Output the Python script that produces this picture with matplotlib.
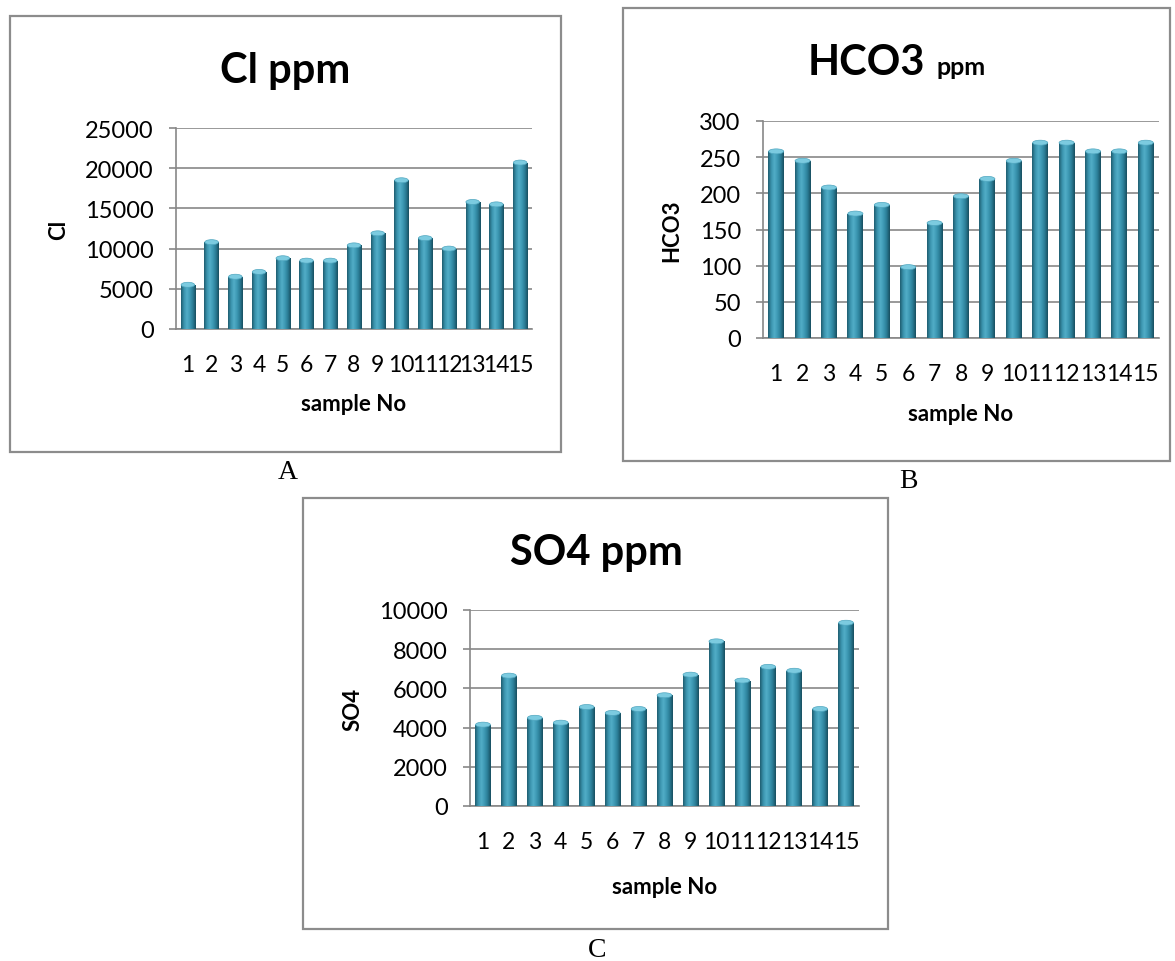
import numpy as np
import matplotlib
matplotlib.use("Agg")
import matplotlib.pyplot as plt
from matplotlib.colors import LinearSegmentedColormap
from matplotlib.patches import Rectangle, Ellipse

# ---------------- data ----------------
samples = [str(i) for i in range(1, 16)]
cl_ppm = [5500, 10800, 6500, 7100, 8800, 8500, 8500, 10400, 11900, 18500, 11300, 10000, 15800, 15500, 20700]
hco3_ppm = [258, 245, 208, 172, 184, 98, 159, 196, 220, 245, 270, 270, 258, 258, 270]
so4_ppm = [4150, 6650, 4500, 4250, 5050, 4750, 4950, 5650, 6700, 8400, 6400, 7100, 6900, 4950, 9350]

W, H = 1175, 962
plt.rcParams['font.family'] = ['Lato', 'DejaVu Sans']

GRID = '#878787'
FRAME = '#8c8c8c'
cyl_cmap = LinearSegmentedColormap.from_list(
    'cyl', ['#1f5d70', '#3a93ad', '#52adc7', '#3d99b4', '#2a7c95', '#184f60'])


def fx(px):
    return px / W


def fy(py):
    return 1 - py / H


def draw_chart(fig, box, data, ymax, ystep, ylabel, label_coords):
    # box = (left, top, right, bottom) of the plot area in pixels
    l, t, r, b = box
    ax = fig.add_axes([fx(l), fy(b), fx(r - l), (b - t) / H])
    x = np.arange(len(data))
    bars = ax.bar(x, data, width=0.6, color='#3a93ad', zorder=3)

    # cylinder shading
    grad = np.linspace(0, 1, 64).reshape(1, -1)
    units_per_px = ymax / (b - t)
    for bar in bars:
        bx, by = bar.get_xy()
        bw, bh = bar.get_width(), bar.get_height()
        im = ax.imshow(grad, cmap=cyl_cmap, extent=[bx, bx + bw, by, by + bh],
                       aspect='auto', zorder=3, interpolation='bilinear')
        im.set_clip_path(bar)
        ax.add_patch(Ellipse((bx + bw / 2, by + bh), bw * 0.95, 5 * units_per_px,
                             facecolor='#7ccbe0', edgecolor='#4fa6bf', lw=0.5, zorder=4))

    ax.set_xlim(-0.5, len(data) - 0.5)
    ax.set_ylim(0, ymax)
    ax.set_yticks(np.arange(0, ymax + 1, ystep))
    ax.set_xticks(x)
    ax.set_xticklabels(samples)
    ax.yaxis.grid(True, color=GRID, lw=1.2, zorder=0)
    ax.set_axisbelow(True)
    for side in ['top', 'right']:
        ax.spines[side].set_visible(False)
    for side in ['left', 'bottom']:
        ax.spines[side].set_color(GRID)
        ax.spines[side].set_linewidth(1.2)
    ax.tick_params(axis='y', length=5, width=1.2, color=GRID, pad=11, labelsize=17)
    ax.tick_params(axis='x', length=0, pad=18, labelsize=16.5)

    ax.set_ylabel(ylabel, fontsize=16, fontweight='bold', va='center', ha='center')
    ax.set_xlabel('sample No', fontsize=16, fontweight='bold', va='center', ha='center')
    ax.yaxis.set_label_coords(label_coords[0], 0.5)
    ax.xaxis.set_label_coords(0.5, label_coords[1])
    return ax


fig = plt.figure(figsize=(W / 100, H / 100), dpi=100)

# frames around each chart
for (l, t, r, b) in [(10, 17, 561, 453), (623, 9, 1170, 462), (303, 499, 888, 930)]:
    fig.patches.append(Rectangle((fx(l), fy(b)), fx(r - l), (b - t) / H, fill=False,
                                 edgecolor=FRAME, lw=1.6, transform=fig.transFigure))

# A
draw_chart(fig, (176, 129, 532, 330), cl_ppm, 25000, 5000, 'Cl', (-0.33, -0.373))
fig.text(fx(285), fy(83), 'Cl ppm', fontsize=30, fontweight='bold', ha='center', va='baseline')

# B
draw_chart(fig, (763, 122, 1159, 339), hco3_ppm, 300, 50, 'HCO3', (-0.23, -0.350))
fig.text(fx(925), fy(75), 'HCO3', fontsize=30, fontweight='bold', ha='right', va='baseline')
fig.text(fx(937), fy(75), 'ppm', fontsize=18, fontweight='bold', ha='left', va='baseline')

# C
draw_chart(fig, (470, 611, 859, 807), so4_ppm, 10000, 2000, 'SO4', (-0.30, -0.413))
fig.text(fx(596), fy(565), 'SO4 ppm', fontsize=30, fontweight='bold', ha='center', va='baseline')

# panel letters
for letter, px, py in [('A', 288, 473), ('B', 908, 482), ('C', 597, 951)]:
    fig.text(fx(px), fy(py), letter, fontsize=20, family='Liberation Serif',
             ha='center', va='center')

fig.savefig('out.png', dpi=100)
